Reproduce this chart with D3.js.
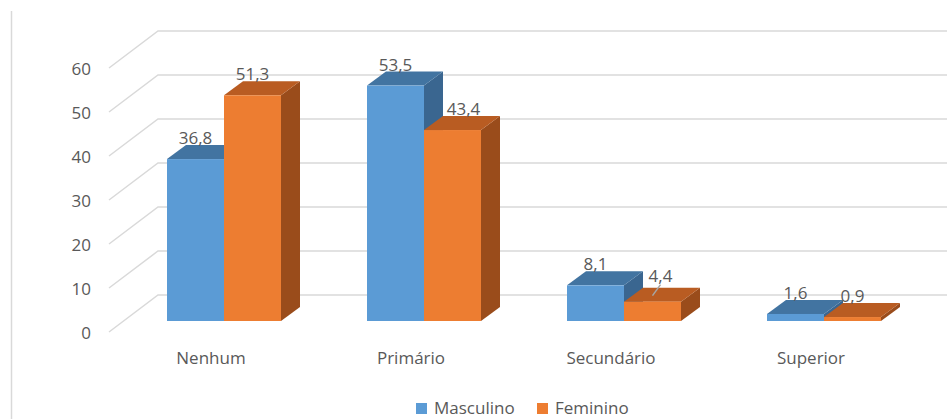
<!DOCTYPE html>
<html>
<head>
<meta charset="utf-8">
<script src="https://cdn.jsdelivr.net/npm/d3@7"></script>
<style>
  body { margin: 0; background: #fff; }
  text { font-family: "Open Sans", sans-serif; fill: #595959; }
</style>
</head>
<body>
<div id="chart"></div>
<script>
const categories = ['Nenhum', 'Primário', 'Secundário', 'Superior'];
const seriesNames = ['Masculino', 'Feminino'];
const masculino = [36.8, 53.5, 8.1, 1.6];
const feminino = [51.3, 43.4, 4.4, 0.9];
const yTicks = [0, 10, 20, 30, 40, 50, 60];

const width = 947;
const height = 419;

const colors = {
  Masculino: { front: '#5b9bd5', top: '#4274a1', side: '#3a6690' },
  Feminino: { front: '#ed7d31', top: '#b95c22', side: '#9a4c1b' }
};

// 3d offsets
const depthX = 19, depthY = -14;       // bar depth
const wallX = 158, wallDy = -26;       // back wall relative to bar front plane
const frontX = 109, frontDy = 11;      // front edge of the floor

const svg = d3.select('#chart')
    .append('svg')
    .attr('width', width)
    .attr('height', height);

// frame line on the left
svg.append('line')
    .attr('x1', 11.5).attr('x2', 11.5)
    .attr('y1', 11).attr('y2', height)
    .attr('stroke', '#d9d9d9')
    .attr('stroke-width', 1.5);

const x = d3.scaleBand()
    .domain(categories)
    .range([124, 924])
    .paddingInner(0.43)
    .paddingOuter(0.215);

const xs = d3.scaleBand()
    .domain(seriesNames)
    .range([0, x.bandwidth()]);

const y = d3.scaleLinear()
    .domain([0, 60])
    .range([321, 57]);

// gridlines: back wall + diagonal on the side
const grid = svg.append('g')
    .attr('stroke', '#d9d9d9')
    .attr('stroke-width', 1.5)
    .attr('fill', 'none');

grid.selectAll('path')
    .data(yTicks)
    .enter()
    .append('path')
    .attr('d', d => `M${frontX},${y(d) + frontDy}L${wallX},${y(d) + wallDy}L${width},${y(d) + wallDy}`);

svg.selectAll('.tick-label')
    .data(yTicks)
    .enter()
    .append('text')
    .attr('class', 'tick-label')
    .attr('x', 91)
    .attr('y', d => y(d) + frontDy + 1)
    .attr('dy', '0.35em')
    .attr('text-anchor', 'end')
    .style('font-size', '17px')
    .text(d => d);

// bars
const rows = [];
categories.forEach((c, i) => {
  rows.push({ cat: c, series: 'Masculino', value: masculino[i] });
  rows.push({ cat: c, series: 'Feminino', value: feminino[i] });
});

const bars = svg.selectAll('.bar')
    .data(rows)
    .enter()
    .append('g')
    .attr('class', 'bar');

bars.each(function(d) {
  const g = d3.select(this);
  const x0 = x(d.cat) + xs(d.series);
  const x1 = x0 + xs.bandwidth();
  const yt = y(d.value);
  const yb = y(0);
  const col = colors[d.series];

  // side face
  g.append('path')
      .attr('d', `M${x1},${yb}L${x1 + depthX},${yb + depthY}L${x1 + depthX},${yt + depthY}L${x1},${yt}Z`)
      .attr('fill', col.side);
  // top face
  g.append('path')
      .attr('d', `M${x0},${yt}L${x0 + depthX},${yt + depthY}L${x1 + depthX},${yt + depthY}L${x1},${yt}Z`)
      .attr('fill', col.top);
  // front face
  g.append('rect')
      .attr('x', x0)
      .attr('y', yt)
      .attr('width', xs.bandwidth())
      .attr('height', yb - yt)
      .attr('fill', col.front);
});

// value labels (a few were moved by hand in the original)
const labelShift = {
  'Primário|Feminino': { dx: 11, dy: 0 },
  'Secundário|Feminino': { dx: 8, dy: -5, leader: true }
};

rows.forEach(d => {
  const cx = x(d.cat) + xs(d.series) + xs.bandwidth() / 2;
  const base = y(d.value) + depthY - 1;
  const s = labelShift[d.cat + '|' + d.series] || { dx: 0, dy: 0 };
  svg.append('text')
      .attr('x', cx + s.dx)
      .attr('y', base + s.dy)
      .attr('text-anchor', 'middle')
      .style('font-size', '17px')
      .text(String(d.value).replace('.', ','));
  if (s.leader) {
    svg.append('line')
        .attr('x1', cx).attr('y1', y(d.value) - 6)
        .attr('x2', cx + s.dx).attr('y2', base + s.dy + 3)
        .attr('stroke', '#a6a6a6')
        .attr('stroke-width', 1.5);
  }
});

// category labels
svg.selectAll('.cat-label')
    .data(categories)
    .enter()
    .append('text')
    .attr('class', 'cat-label')
    .attr('x', d => x(d) + x.bandwidth() / 2 - 13)
    .attr('y', 358)
    .attr('dy', '0.35em')
    .attr('text-anchor', 'middle')
    .style('font-size', '17px')
    .text(d => d);

// legend
const legendX = [416, 537];
const legend = svg.selectAll('.legend')
    .data(seriesNames)
    .enter()
    .append('g')
    .attr('class', 'legend')
    .attr('transform', (d, i) => `translate(${legendX[i]},403)`);

legend.append('rect')
    .attr('width', 11)
    .attr('height', 11)
    .attr('fill', d => colors[d].front);

legend.append('text')
    .attr('x', 18)
    .attr('y', 5.5)
    .attr('dy', '0.35em')
    .style('font-size', '17px')
    .text(d => d);
</script>
</body>
</html>
